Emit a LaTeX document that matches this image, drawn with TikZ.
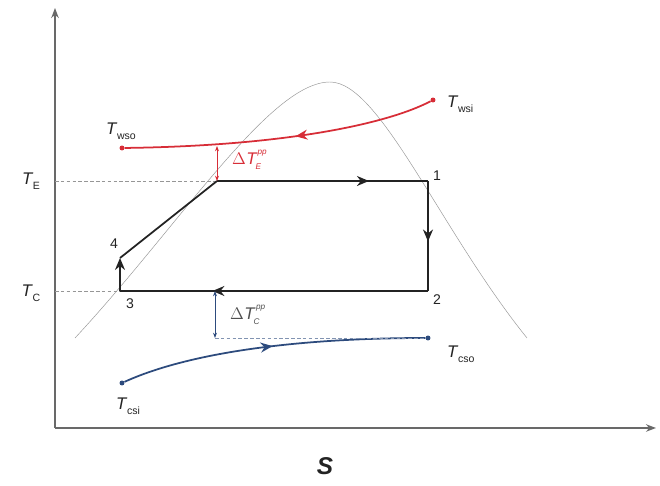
\documentclass[tikz,border=0pt]{standalone}
\usepackage{fontspec}
\setsansfont{Liberation Sans}
\usetikzlibrary{arrows.meta,positioning,calc,decorations.markings}
\definecolor{cyc}{RGB}{35,35,35}
\definecolor{axisgray}{RGB}{105,105,105}
\definecolor{domegray}{RGB}{150,150,150}
\definecolor{wside}{RGB}{215,45,55}
\definecolor{cside}{RGB}{45,75,125}
\newcommand{\tlab}[1]{{\itshape T}\kern0.5pt\raisebox{-0.6ex}{\small #1}}
\newcommand{\dlab}[2]{$\Delta$\kern0.5pt{\itshape T}\kern-1pt\raisebox{-0.55ex}{\scriptsize\itshape #1}\kern-3pt\raisebox{1.1ex}{\scriptsize\itshape #2}}
\tikzset{dot/.style={circle,fill,inner sep=1.5pt},
  cycline/.style={line width=1.5pt,cyc},
  midarrow/.style={postaction={decorate},decoration={markings,
    mark=at position #1 with {\arrow{Stealth[length=3.6mm,width=3mm]}}}},
  guide/.style={densely dashed,domegray,thin},
  gap/.style={{Stealth[length=1.6mm]}-{Stealth[length=1.6mm]},thick},
  ptlabel/.style={font=\sffamily\large,text=cyc},
  templabel/.style={font=\sffamily\Large,text=cyc}}

\begin{document}
\begin{tikzpicture}[x=0.03cm,y=-0.03cm]
\useasboundingbox (0,0) rectangle (660,486);
% axes
\coordinate (origin) at (55,428);
\coordinate (ytop) at (55,8);
\coordinate (xend) at (656,428);
\draw[axisgray,line width=1.2pt,-{Stealth[length=3mm]}] (origin) -- (ytop);
\draw[axisgray,line width=1.2pt,-{Stealth[length=3mm]}] (origin) -- (xend);
\node[font=\sffamily\bfseries\itshape\huge,text=cyc] (sLabel) at (325,466) {S};
% saturation dome
\draw[domegray,thin] (75,338) .. controls (180,225) and (270,82) .. (330,82)
  .. controls (380,82) and (440,230) .. (527,338);
% cycle points
\coordinate (p1) at (428,181);
\coordinate (p2) at (428,291);
\coordinate (p3) at (120,291);
\coordinate (p4) at (120,258);
\coordinate (pe) at (217,181);
\coordinate (edge) at (55,181);
\coordinate (cdge) at (55,291);
\node[templabel] (tE) at (31,181) {\tlab{E}};
\node[templabel] (tC) at (31,293) {\tlab{C}};
\draw[guide] (edge) -- (pe);
\draw[guide] (cdge) -- (p3);
\draw[cycline] (p4) -- (pe);
\draw[cycline,midarrow=0.72] (pe) -- (p1);
\draw[cycline,midarrow=0.55] (p1) -- (p2);
\draw[cycline,midarrow=0.7] (p2) -- (p3);
\draw[cycline,-{Stealth[length=3.6mm,width=3mm]}] (p3) -- (p4);
\node[ptlabel] (n1) at (437,176) {1};
\node[ptlabel] (n2) at (437,300) {2};
\node[ptlabel] (n3) at (130,304) {3};
\node[ptlabel] (n4) at (114,244) {4};
% water side
\node[dot,wside] (wsi) at (433,100) {};
\node[dot,wside] (wso) at (122,148) {};
\draw[wside,line width=1.5pt,midarrow=0.45] (wsi) .. controls (385,125) and (280,146) .. (wso);
\node[templabel,right] (wsiLabel) at (443,104) {\tlab{wsi}};
\node[templabel] (wsoLabel) at (121,131) {\tlab{wso}};
\coordinate (dEtop) at (217,146);
\draw[gap,wside] (dEtop) -- (pe);
\node[right,font=\sffamily\Large,text=wside] (dE) at (228,160) {\dlab{E}{pp}};
% condenser side
\node[dot,cside] (csi) at (122,383) {};
\node[dot,cside] (cso) at (428,338) {};
\draw[cside,line width=1.5pt,midarrow=0.5] (csi) .. controls (190,352) and (300,338) .. (cso);
\node[templabel] (csiLabel) at (128,406) {\tlab{csi}};
\node[templabel,right] (csoLabel) at (443,354) {\tlab{cso}};
\coordinate (dCtop) at (215,291);
\coordinate (dCbot) at (215,338);
\draw[guide,cside!60] (dCbot) -- (cso);
\draw[gap,cside] (dCtop) -- (dCbot);
\node[right,font=\sffamily\Large,text=cyc!80] (dC) at (226,315) {\dlab{C}{pp}};
\end{tikzpicture}
\end{document}
